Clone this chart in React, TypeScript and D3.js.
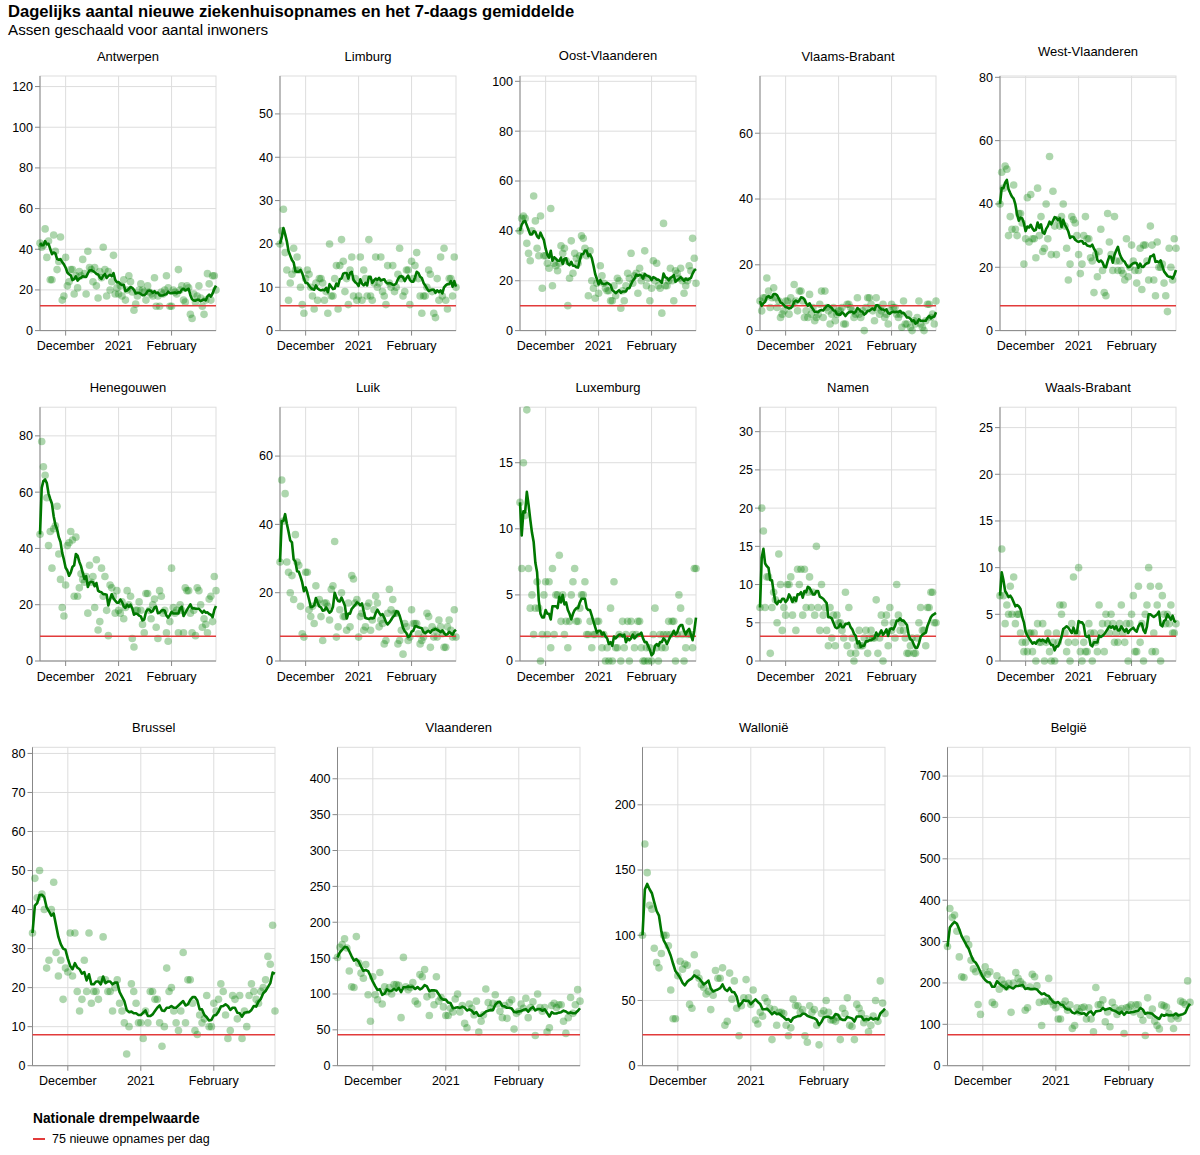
import React from "react";
import * as d3 from "d3";

// ---------- data ----------
const startDate = new Date(2020, 10, 16);
const endDate = new Date(2021, 1, 27);
const dates: Date[] = d3.timeDay.range(startDate, d3.timeDay.offset(endDate, 1));

const regions = [
  "Antwerpen", "Limburg", "Oost-Vlaanderen", "Vlaams-Brabant", "West-Vlaanderen",
  "Henegouwen", "Luik", "Luxemburg", "Namen", "Waals-Brabant",
  "Brussel", "Vlaanderen", "Wallonië", "België",
];

const population = [
  1869730, 877370, 1525255, 1155843, 1200945,
  1346840, 1109800, 286752, 495832, 406019,
  1218255, 6629143, 3645243, 11492641,
];

const nationalThreshold = 75; // nieuwe opnames per dag (België)
const axisMaxPerMillion = 66.96;

const antwerpen = [
  43, 41, 42, 50, 36, 44, 25, 25, 47, 39,
  30, 34, 46, 15, 17, 36, 22, 24, 30, 30,
  18, 27, 21, 29, 27, 35, 28, 18, 39, 31,
  30, 24, 31, 22, 16, 29, 26, 41, 30, 17,
  29, 20, 24, 37, 18, 21, 18, 22, 17, 25,
  15, 20, 27, 24, 19, 10, 13, 17, 20, 23,
  20, 19, 15, 22, 19, 18, 17, 26, 12, 17,
  12, 19, 18, 20, 27, 21, 12, 12, 20, 19,
  18, 30, 20, 22, 15, 14, 22, 21, 8, 6,
  18, 14, 17, 22, 16, 12, 8, 15, 28, 23,
  15, 27, 27, 20,
];
const limburg = [
  20, 23, 28, 18, 14, 7, 11, 13, 19, 14,
  17, 14, 10, 6, 4, 12, 14, 13, 10, 8,
  5, 11, 7, 12, 12, 11, 7, 9, 4, 20,
  8, 8, 12, 15, 5, 15, 21, 16, 9, 12,
  6, 14, 17, 8, 12, 7, 8, 17, 7, 14,
  12, 8, 21, 8, 7, 11, 17, 10, 11, 17,
  9, 8, 6, 15, 11, 10, 15, 9, 10, 13,
  19, 12, 8, 9, 14, 14, 6, 16, 12, 15,
  18, 12, 8, 4, 8, 8, 10, 14, 13, 9,
  4, 3, 12, 7, 17, 8, 19, 7, 5, 12,
  12, 8, 17, 10,
];
const oostVlaanderen = [
  40, 45, 46, 45, 35, 31, 28, 40, 54, 44,
  33, 30, 46, 17, 30, 30, 27, 25, 49, 18,
  27, 26, 24, 27, 34, 31, 33, 28, 10, 21,
  36, 23, 31, 29, 27, 30, 38, 37, 33, 30,
  14, 32, 20, 17, 13, 19, 15, 26, 22, 19,
  17, 16, 16, 12, 12, 18, 14, 21, 20, 9,
  16, 12, 18, 23, 21, 31, 19, 22, 23, 15,
  25, 20, 22, 32, 18, 21, 12, 17, 28, 20,
  27, 18, 17, 7, 43, 18, 18, 20, 25, 20,
  12, 24, 23, 21, 25, 20, 15, 18, 20, 26,
  24, 37, 29, 19,
];
const vlaamsBrabant = [
  9, 6, 10, 10, 16, 12, 7, 10, 13, 10,
  7, 9, 4, 5, 6, 9, 9, 5, 10, 8,
  14, 9, 6, 12, 12, 9, 4, 6, 4, 11,
  5, 7, 3, 4, 5, 8, 12, 4, 12, 7,
  6, 2, 5, 7, 3, 5, 6, 6, 7, 2,
  2, 8, 8, 7, 6, 4, 5, 10, 5, 4,
  6, 0, 7, 10, 10, 8, 6, 3, 10, 7,
  5, 6, 8, 4, 5, 2, 6, 8, 7, 7,
  5, 4, 5, 1, 9, 2, 2, 5, 1, 0,
  3, 2, 4, 9, 2, 1, 0, 3, 8, 8,
  4, 5, 2, 9,
];
const westVlaanderen = [
  40, 50, 45, 52, 51, 30, 36, 32, 46, 32,
  30, 37, 37, 34, 21, 29, 42, 28, 43, 29,
  29, 23, 45, 30, 36, 25, 26, 40, 29, 55,
  24, 44, 33, 24, 35, 33, 36, 40, 33, 26,
  16, 21, 36, 35, 34, 30, 24, 18, 21, 30,
  36, 29, 29, 23, 22, 12, 24, 17, 25, 32,
  19, 12, 11, 37, 28, 24, 19, 36, 22, 19,
  22, 19, 18, 16, 29, 17, 20, 27, 22, 19,
  15, 19, 26, 13, 27, 27, 22, 16, 33, 27,
  16, 11, 28, 20, 20, 21, 15, 11, 6, 26,
  20, 16, 29, 26,
];
const henegouwen = [
  45, 78, 69, 66, 58, 41, 46, 33, 47, 48,
  55, 38, 29, 19, 16, 27, 41, 42, 46, 43,
  23, 44, 23, 26, 31, 29, 28, 30, 17, 34,
  28, 30, 19, 36, 11, 14, 33, 23, 30, 18,
  9, 27, 26, 23, 17, 25, 18, 17, 21, 15,
  19, 25, 20, 23, 8, 5, 18, 18, 21, 18,
  13, 10, 24, 24, 18, 15, 20, 22, 12, 8,
  25, 23, 17, 18, 10, 7, 14, 33, 19, 17,
  18, 10, 20, 18, 10, 26, 25, 25, 17, 10,
  18, 9, 26, 25, 20, 12, 15, 13, 10, 22,
  23, 14, 30, 25,
];
const luik = [
  29, 53, 41, 49, 29, 26, 20, 25, 18, 37,
  29, 28, 16, 8, 7, 26, 26, 15, 13, 16,
  11, 22, 17, 18, 13, 6, 17, 17, 16, 12,
  21, 22, 35, 7, 10, 15, 20, 13, 13, 9,
  17, 10, 25, 24, 17, 18, 7, 13, 14, 9,
  10, 16, 17, 9, 12, 15, 19, 17, 10, 12,
  11, 5, 6, 14, 21, 15, 18, 14, 14, 5,
  6, 9, 2, 11, 10, 6, 7, 15, 11, 11,
  11, 8, 5, 6, 7, 9, 14, 13, 4, 10,
  7, 9, 7, 12, 10, 8, 4, 4, 10, 12,
  9, 7, 15, 7,
];
const luxemburg = [
  12, 7, 15, 11, 19, 7, 4, 5, 2, 4,
  6, 4, 0, 2, 5, 6, 2, 6, 1, 7,
  2, 5, 5, 8, 3, 5, 2, 3, 1, 3,
  5, 6, 7, 3, 3, 4, 5, 5, 6, 2,
  2, 3, 1, 2, 2, 3, 3, 2, 1, 2,
  0, 1, 0, 4, 0, 6, 1, 1, 2, 0,
  3, 1, 2, 3, 0, 3, 2, 1, 2, 3,
  3, 1, 0, 0, 1, 0, 1, 0, 2, 4,
  1, 0, 2, 1, 2, 1, 2, 3, 2, 3,
  3, 0, 2, 5, 4, 2, 0, 1, 2, 3,
  2, 1, 7, 7,
];
const namen = [
  7, 20, 17, 7, 11, 11, 1, 7, 9, 8,
  5, 14, 10, 4, 7, 6, 10, 10, 11, 6,
  8, 4, 12, 10, 12, 6, 12, 7, 9, 11,
  7, 9, 6, 15, 7, 4, 10, 6, 7, 4,
  2, 7, 3, 6, 2, 6, 5, 5, 4, 3,
  9, 2, 7, 1, 3, 0, 1, 2, 4, 2,
  2, 3, 4, 1, 3, 4, 3, 3, 8, 1,
  3, 6, 0, 5, 6, 2, 7, 4, 5, 3,
  10, 6, 4, 5, 4, 3, 1, 1, 2, 3,
  1, 1, 3, 5, 7, 4, 4, 2, 7, 7,
  9, 9, 5, 5,
];
const waalsBrabant = [
  7, 12, 7, 4, 6, 5, 8, 5, 9, 4,
  5, 5, 3, 2, 1, 2, 1, 3, 3, 1,
  3, 0, 4, 2, 2, 4, 0, 2, 3, 1,
  0, 2, 0, 3, 2, 6, 5, 6, 3, 1,
  2, 0, 4, 9, 2, 3, 10, 1, 0, 2,
  1, 1, 4, 3, 0, 3, 2, 1, 6, 3,
  4, 1, 5, 4, 3, 5, 4, 2, 3, 2,
  4, 6, 3, 2, 4, 0, 4, 5, 7, 1,
  1, 8, 2, 4, 0, 5, 6, 10, 8, 1,
  3, 1, 6, 8, 0, 7, 5, 4, 5, 4,
  6, 3, 3, 4,
];
const brussel = [
  34, 48, 43, 50, 44, 40, 25, 27, 40, 47,
  29, 23, 27, 17, 25, 24, 34, 23, 34, 19,
  14, 17, 27, 19, 34, 16, 19, 19, 17, 22,
  33, 22, 19, 19, 14, 20, 22, 16, 14, 11,
  3, 10, 21, 19, 16, 11, 11, 7, 14, 11,
  19, 19, 17, 17, 11, 5, 10, 25, 19, 20,
  14, 11, 9, 14, 29, 11, 22, 22, 16, 9,
  8, 13, 11, 12, 18, 10, 10, 16, 14, 17,
  21, 19, 13, 7, 9, 18, 17, 12, 18, 7,
  14, 10, 18, 21, 19, 17, 16, 19, 20, 22,
  28, 26, 36, 14,
];
const vlaanderen = [
  151, 165, 169, 177, 164, 132, 110, 109, 180, 143,
  129, 122, 141, 99, 62, 124, 99, 92, 130, 86,
  110, 103, 109, 100, 113, 113, 112, 67, 151, 110,
  106, 109, 116, 90, 86, 127, 124, 134, 96, 70,
  99, 85, 124, 90, 95, 82, 70, 70, 80, 75,
  93, 100, 75, 84, 59, 53, 86, 80, 71, 90,
  47, 62, 71, 107, 88, 80, 87, 99, 86, 76,
  67, 84, 66, 88, 92, 51, 73, 76, 86, 80,
  94, 67, 81, 89, 42, 100, 81, 76, 81, 47,
  53, 84, 87, 81, 85, 85, 62, 45, 67, 95,
  73, 85, 106, 90,
];
const wallonie = [
  100, 170, 148, 123, 120, 90, 79, 75, 86, 100,
  100, 92, 58, 36, 36, 69, 80, 74, 78, 77,
  47, 44, 85, 71, 67, 62, 60, 55, 57, 43,
  54, 73, 67, 67, 75, 31, 34, 71, 51, 65,
  44, 23, 46, 52, 66, 52, 47, 58, 35, 32,
  41, 38, 52, 49, 44, 20, 43, 31, 41, 41,
  40, 31, 23, 29, 51, 46, 46, 41, 43, 23,
  18, 46, 41, 43, 31, 16, 40, 42, 50, 41,
  35, 35, 34, 37, 20, 44, 40, 52, 31, 30,
  20, 47, 44, 40, 33, 36, 26, 31, 38, 50,
  34, 65, 48, 40,
];
const belgie = [
  288, 380, 358, 364, 325, 263, 215, 213, 306, 292,
  255, 234, 227, 148, 124, 223, 239, 221, 227, 153,
  148, 217, 185, 207, 197, 190, 199, 129, 200, 225,
  211, 203, 197, 134, 140, 190, 221, 215, 193, 153,
  97, 155, 156, 211, 155, 147, 140, 113, 113, 148,
  156, 134, 147, 90, 97, 140, 130, 140, 142, 113,
  140, 113, 82, 189, 147, 148, 159, 106, 130, 94,
  153, 140, 124, 134, 138, 78, 140, 142, 147, 130,
  147, 147, 124, 110, 73, 164, 122, 137, 108, 97,
  89, 147, 145, 142, 126, 113, 90, 120, 114, 156,
  153, 148, 205, 153,
];

const seriesList = [
  antwerpen, limburg, oostVlaanderen, vlaamsBrabant, westVlaanderen,
  henegouwen, luik, luxemburg, namen, waalsBrabant,
  brussel, vlaanderen, wallonie, belgie,
];

const titleText = "Dagelijks aantal nieuwe ziekenhuisopnames en het 7-daags gemiddelde";
const subtitleText = "Assen geschaald voor aantal inwoners";
const legendTitle = "Nationale drempelwaarde";
const legendLabel = "75 nieuwe opnames per dag";

// ---------- layout / style ----------
const FONT = "'Liberation Sans', Arial, Helvetica, sans-serif";
const ROWS = [
  { top: 76, height: 254.6, left: 40, step: 240, width: 176, tickCount: 5 },
  { top: 407.2, height: 253.8, left: 40, step: 240, width: 176, tickCount: 5 },
  { top: 747.3, height: 318.4, left: 32.5, step: 305, width: 242.5, tickCount: 7 },
];
const DOT = "#008000";
const LINE = "#007800";
const RED = "#e23b3b";

function rollingMean(vals: number[], n: number): number[] {
  return vals.map((_, i) => d3.mean(vals.slice(Math.max(0, i - n + 1), i + 1)) as number);
}

const fmtMonth = d3.timeFormat("%B");
const fmtYear = d3.timeFormat("%Y");
const fmtDate = (d: Date) => (d.getMonth() === 0 ? fmtYear(d) : fmtMonth(d));

function Panel({ idx }: { idx: number }) {
  const row = idx < 5 ? 0 : idx < 10 ? 1 : 2;
  const col = row === 2 ? idx - 10 : idx % 5;
  const L = ROWS[row];
  const x0 = L.left + col * L.step;
  const y0 = L.top;
  const w = L.width;
  const h = L.height;
  const vals = seriesList[idx];
  const pop = population[idx];

  const x = d3.scaleTime().domain([dates[0], dates[dates.length - 1]]).range([0, w]);
  const y = d3.scaleLinear().domain([0, (pop / 1e6) * axisMaxPerMillion]).range([h, 0]);
  const yt = y.ticks(L.tickCount);
  const xt = d3.timeMonth.range(dates[0], dates[dates.length - 1]);
  const thr = (nationalThreshold * pop) / population[population.length - 1];
  const avg = rollingMean(vals, 7);
  const path = d3
    .line<number>()
    .x((_, i) => x(dates[i]))
    .y((d) => y(d))(avg) as string;

  const topLabel = y(yt[yt.length - 1]) - 6.5;
  const titleBase = Math.min(0, topLabel) - 15.3;

  return (
    <g transform={`translate(${x0},${y0})`}>
      <text x={w / 2} y={titleBase} textAnchor="middle" fontSize={13} fill="#000">
        {regions[idx]}
      </text>
      {yt.map((t) => (
        <line key={"gy" + t} x1={0} x2={w} y1={y(t)} y2={y(t)} stroke="#ddd" strokeWidth={1} />
      ))}
      {xt.map((t) => (
        <line key={"gx" + +t} x1={x(t)} x2={x(t)} y1={0} y2={h} stroke="#ddd" strokeWidth={1} />
      ))}
      <rect x={0} y={0} width={w} height={h} fill="none" stroke="#ddd" strokeWidth={1} />
      {/* y axis */}
      <line x1={0} x2={0} y1={0} y2={h} stroke="#888" strokeWidth={1} />
      {yt.map((t) => (
        <g key={"ty" + t}>
          <line x1={-5} x2={0} y1={y(t)} y2={y(t)} stroke="#888" strokeWidth={1} />
          <text x={-7} y={y(t) + 4.4} textAnchor="end" fontSize={12.5} fill="#000">
            {t}
          </text>
        </g>
      ))}
      {/* x axis */}
      <line x1={0} x2={w} y1={h} y2={h} stroke="#888" strokeWidth={1} />
      {xt.map((t) => (
        <g key={"tx" + +t}>
          <line x1={x(t)} x2={x(t)} y1={h} y2={h + 5} stroke="#888" strokeWidth={1} />
          <text x={x(t)} y={h + 19.8} textAnchor="middle" fontSize={12.5} fill="#000">
            {fmtDate(t)}
          </text>
        </g>
      ))}
      {/* daily points */}
      {vals.map((v, i) => (
        <circle key={"p" + i} cx={x(dates[i])} cy={y(v)} r={3.8} fill={DOT} fillOpacity={0.32} />
      ))}
      {/* threshold */}
      <line x1={0} x2={w} y1={y(thr)} y2={y(thr)} stroke={RED} strokeWidth={1.5} />
      {/* 7-day average */}
      <path d={path} fill="none" stroke={LINE} strokeWidth={2.6} strokeLinejoin="round" />
    </g>
  );
}

export default function App() {
  return (
    <svg
      width={1200}
      height={1155}
      style={{ position: "absolute", left: 0, top: 0, background: "#fff" }}
      fontFamily={FONT}
    >
      <rect x={0} y={0} width={1200} height={1155} fill="#fff" />
      <text x={8} y={17} fontSize={16.6} fontWeight="bold" fill="#000">
        {titleText}
      </text>
      <text x={8} y={35.3} fontSize={15.2} fill="#000">
        {subtitleText}
      </text>
      {regions.map((_, i) => (
        <Panel key={i} idx={i} />
      ))}
      <g>
        <text x={33} y={1123} fontSize={13.75} fontWeight="bold" fill="#000">
          {legendTitle}
        </text>
        <line x1={33} x2={45} y1={1139} y2={1139} stroke={RED} strokeWidth={2} />
        <text x={52} y={1143.4} fontSize={12.5} fill="#000">
          {legendLabel}
        </text>
      </g>
    </svg>
  );
}
